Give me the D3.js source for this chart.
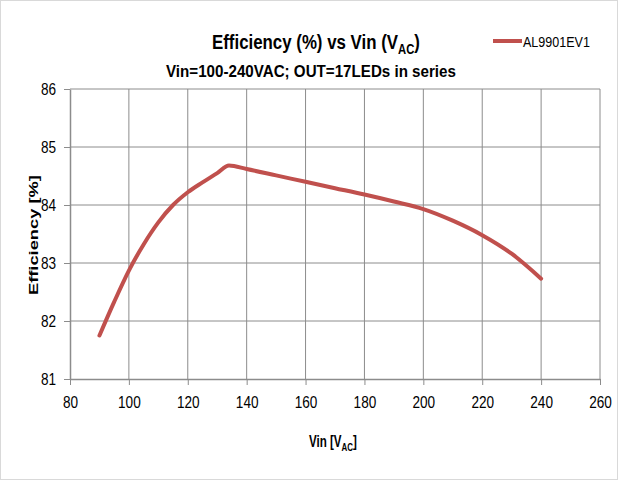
<!DOCTYPE html>
<html>
<head>
<meta charset="utf-8">
<script src="https://cdn.jsdelivr.net/npm/d3@7"></script>
<style>
  body { margin: 0; background: #fff; }
  text { font-family: "Liberation Sans", Arial, sans-serif; fill: #000; }
</style>
</head>
<body>
<div id="chart"></div>
<script>
const vin = [90, 95, 100, 105, 110, 115, 120, 125, 130, 134, 140, 150, 160, 170, 180, 190, 200, 210, 220, 230, 240];
const efficiency = [81.75, 82.33, 82.87, 83.32, 83.70, 84.00, 84.22, 84.39, 84.55, 84.68, 84.62, 84.51, 84.40, 84.29, 84.18, 84.06, 83.93, 83.73, 83.48, 83.16, 82.73];
const xTicks = [80, 100, 120, 140, 160, 180, 200, 220, 240, 260];
const yTicks = [81, 82, 83, 84, 85, 86];
const seriesName = "AL9901EV1";

const width = 618, height = 480;
const margin = { left: 70, right: 18, top: 89, bottom: 101 };
const innerWidth = width - margin.left - margin.right;
const innerHeight = height - margin.top - margin.bottom;
const narrow = 0.8; // the original uses a condensed face

const svg = d3.select("#chart").append("svg")
  .attr("width", width).attr("height", height);

// outer frame
svg.append("rect")
  .attr("x", 0.5).attr("y", 0.5)
  .attr("width", width - 1).attr("height", height - 1)
  .attr("fill", "none").attr("stroke", "#d9d9d9");

const g = svg.append("g").attr("transform", `translate(${margin.left},${margin.top})`);

const xScale = d3.scaleLinear().domain([80, 260]).range([0, innerWidth]);
const yScale = d3.scaleLinear().domain([81, 86]).range([innerHeight, 0]);

// grid
g.append("g").selectAll("line").data(xTicks.slice(1)).join("line")
  .attr("x1", d => xScale(d)).attr("x2", d => xScale(d))
  .attr("y1", 0).attr("y2", innerHeight)
  .attr("stroke", "#8c8c8c").attr("stroke-width", 1);
g.append("g").selectAll("line").data(yTicks.slice(1)).join("line")
  .attr("x1", 0).attr("x2", innerWidth)
  .attr("y1", d => yScale(d)).attr("y2", d => yScale(d))
  .attr("stroke", "#8c8c8c").attr("stroke-width", 1);

// axes
const xAxis = g.append("g")
  .attr("transform", `translate(0,${innerHeight})`)
  .call(d3.axisBottom(xScale).tickValues(xTicks).tickFormat(d3.format("d"))
    .tickSize(6).tickSizeOuter(0).tickPadding(11));
const yAxis = g.append("g")
  .call(d3.axisLeft(yScale).tickValues(yTicks).tickFormat(d3.format("d"))
    .tickSize(6).tickSizeOuter(0).tickPadding(8));
[xAxis, yAxis].forEach(a => {
  a.select(".domain").attr("stroke", "#8c8c8c").attr("stroke-width", 1.5);
  a.selectAll(".tick line").attr("stroke", "#8c8c8c");
  a.selectAll(".tick text").attr("font-size", 17)
    .attr("font-family", "'Liberation Sans', Arial, sans-serif")
    .attr("transform", `scale(${narrow},1)`);
});
yAxis.selectAll(".tick text").attr("x", -14 / narrow);

// line
const line = d3.line()
  .x((d, i) => xScale(vin[i]))
  .y(d => yScale(d))
  .curve(d3.curveMonotoneX);
g.append("path").datum(efficiency)
  .attr("d", line)
  .attr("fill", "none")
  .attr("stroke", "#c0504d")
  .attr("stroke-width", 4)
  .attr("stroke-linecap", "round");

// squeeze a text to a target width
function fit(text, x, y, w, rot) {
  const k = w / text.node().getComputedTextLength();
  text.attr("transform", `translate(${x},${y})${rot ? " rotate(" + rot + ")" : ""} scale(${k},1)`);
}

// title
const title = svg.append("text")
  .attr("font-size", 21).attr("font-weight", "bold");
title.append("tspan").text("Efficiency (%) vs Vin (V");
title.append("tspan").attr("font-size", 14).attr("dy", 5).text("AC");
title.append("tspan").attr("dy", -5).text(")");
fit(title, 212, 49, 208);

const sub = svg.append("text")
  .attr("font-size", 16).attr("font-weight", "bold")
  .text("Vin=100-240VAC; OUT=17LEDs in series");
fit(sub, 166, 77, 290);

// legend
svg.append("line")
  .attr("x1", 493).attr("x2", 522).attr("y1", 41).attr("y2", 41)
  .attr("stroke", "#c0504d").attr("stroke-width", 4);
const leg = svg.append("text")
  .attr("font-size", 15)
  .text(seriesName);
fit(leg, 523, 47, 67);

// axis titles
const yt = svg.append("text")
  .attr("font-size", 13).attr("font-weight", "bold")
  .text("Efficiency [%]");
fit(yt, 38, 295, 120, -90);

const xt = svg.append("text")
  .attr("font-size", 16).attr("font-weight", "bold");
xt.append("tspan").text("Vin [V");
xt.append("tspan").attr("font-size", 11).attr("dy", 4).text("AC");
xt.append("tspan").attr("dy", -4).text("]");
fit(xt, 309, 447, 48);
</script>
</body>
</html>
